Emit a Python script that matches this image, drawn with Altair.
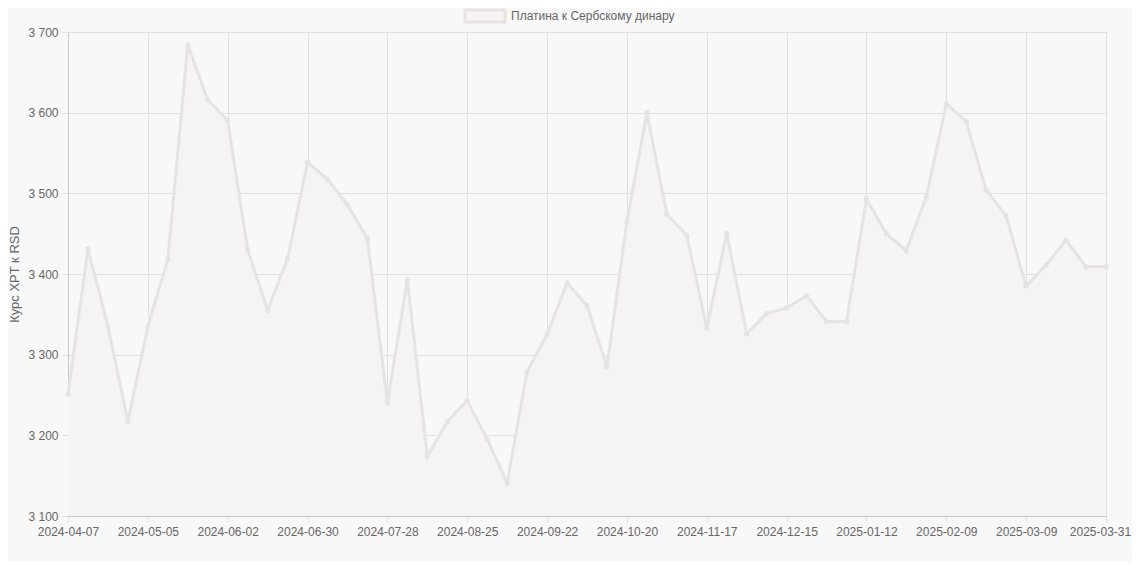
import altair as alt
import pandas as pd

series_name = "Платина к Сербскому динару"
y_title = "Курс XPT к RSD"

dates = [
    "2024-04-07", "2024-04-14", "2024-04-21", "2024-04-28", "2024-05-05", "2024-05-12",
    "2024-05-19", "2024-05-26", "2024-06-02", "2024-06-09", "2024-06-16", "2024-06-23",
    "2024-06-30", "2024-07-07", "2024-07-14", "2024-07-21", "2024-07-28", "2024-08-04",
    "2024-08-11", "2024-08-18", "2024-08-25", "2024-09-01", "2024-09-08", "2024-09-15",
    "2024-09-22", "2024-09-29", "2024-10-06", "2024-10-13", "2024-10-20", "2024-10-27",
    "2024-11-03", "2024-11-10", "2024-11-17", "2024-11-24", "2024-12-01", "2024-12-08",
    "2024-12-15", "2024-12-22", "2024-12-29", "2025-01-05", "2025-01-12", "2025-01-19",
    "2025-01-26", "2025-02-02", "2025-02-09", "2025-02-16", "2025-02-23", "2025-03-02",
    "2025-03-09", "2025-03-16", "2025-03-23", "2025-03-30", "2025-03-31",
]
values = [
    3251, 3431, 3335, 3217, 3335, 3418, 3684, 3616, 3590, 3430, 3355, 3419,
    3539, 3517, 3486, 3444, 3240, 3393, 3174, 3217, 3243, 3195, 3141, 3279,
    3325, 3389, 3361, 3285, 3465, 3600, 3474, 3448, 3333, 3450, 3326, 3351,
    3358, 3373, 3341, 3341, 3493, 3450, 3429, 3496, 3611, 3589, 3504, 3472,
    3385, 3411, 3442, 3409, 3409,
]
tick_dates = [
    "2024-04-07", "2024-05-05", "2024-06-02", "2024-06-30", "2024-07-28", "2024-08-25",
    "2024-09-22", "2024-10-20", "2024-11-17", "2024-12-15", "2025-01-12", "2025-02-09",
    "2025-03-09", "2025-03-31",
]
y_ticks = [3100, 3200, 3300, 3400, 3500, 3600, 3700]

df = pd.DataFrame({"date": dates, "value": values})

LINE = "#e6e3e3"
FILL = "#f5f3f3"
FONT = "Liberation Sans"

W, H = 1038, 484

x_enc = alt.X(
    "date:O",
    sort=dates,
    scale=alt.Scale(type="point", padding=0),
    axis=alt.Axis(
        values=tick_dates, labelAngle=0, title=None, grid=True,
        gridColor="#e0e0e0", domainColor="#c8c8c8", tickColor="#e0e0e0",
        tickSize=6, labelColor="#666666", labelFont=FONT, labelFontSize=12,
        labelPadding=4, labelOverlap=False,
        labelOffset={"condition": {"test": f"datum.value == '{tick_dates[-1]}'", "value": -6}, "value": 0},
    ),
)
y_enc = alt.Y(
    "value:Q",
    scale=alt.Scale(domain=[3100, 3700], nice=False, zero=False),
    axis=alt.Axis(
        values=y_ticks, title=y_title, grid=True, gridColor="#e0e0e0",
        domainColor="#c8c8c8", tickColor="#e0e0e0", tickSize=6,
        labelColor="#666666", labelFont=FONT, labelFontSize=12, labelPadding=4,
        labelExpr="replace(format(datum.value, ',d'), ',', ' ')",
        titleColor="#666666", titleFont=FONT, titleFontSize=13,
        titleFontWeight="normal", titlePadding=6,
    ),
)

base = alt.Chart(df)
area = base.mark_area(color=FILL, opacity=1).encode(x=x_enc, y=y_enc, y2=alt.datum(3100))
line = base.mark_line(color=LINE, strokeWidth=3).encode(x=x_enc, y=y_enc)
pts = base.mark_point(filled=True, color=LINE, size=28, opacity=1).encode(x=x_enc, y=y_enc)

leg_df = pd.DataFrame({"name": [series_name]})
leg_box = alt.Chart(leg_df).mark_rect(fill=FILL, stroke=LINE, strokeWidth=3).encode(
    x=alt.value(397), x2=alt.value(437), y=alt.value(-22), y2=alt.value(-10)
)
leg_txt = alt.Chart(leg_df).mark_text(
    align="left", baseline="middle", font=FONT, fontSize=12, color="#666666"
).encode(x=alt.value(443), y=alt.value(-16), text="name:N")

chart = alt.layer(area, line, pts, leg_box, leg_txt).properties(
    width=W, height=H,
    autosize=alt.AutoSizeParams(type="none"),
    padding={"left": 60, "top": 24, "right": 26, "bottom": 46},
    background="#f8f8f8",
).configure_view(stroke=None)

chart.save("out.html", embed_options={"renderer": "svg", "actions": False})
